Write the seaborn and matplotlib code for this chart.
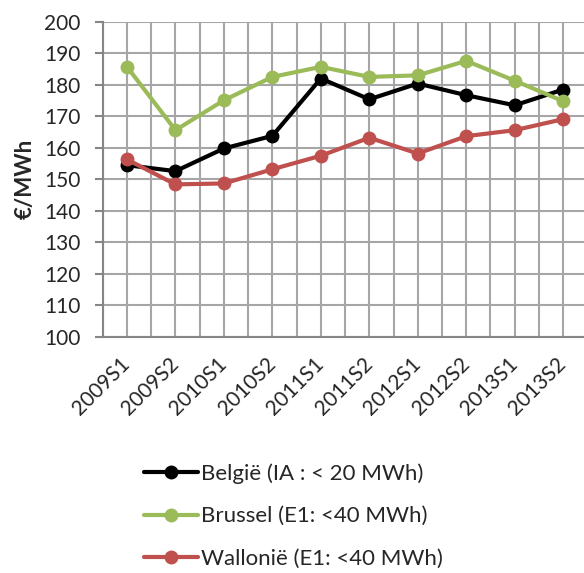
import numpy as np
import pandas as pd
import matplotlib
matplotlib.use("Agg")
import matplotlib.pyplot as plt
from matplotlib.ticker import MultipleLocator, FixedLocator
import seaborn as sns

# Data
periodes = ["2009S1", "2009S2", "2010S1", "2010S2", "2011S1",
            "2011S2", "2012S1", "2012S2", "2013S1", "2013S2"]
belgie = [154.5, 152.6, 159.8, 163.8, 182.0, 175.4, 180.4, 176.7, 173.5, 178.5]
brussel = [185.7, 165.6, 175.1, 182.5, 185.7, 182.5, 183.0, 187.6, 181.3, 174.8]
wallonie = [156.3, 148.4, 148.7, 153.2, 157.5, 163.2, 158.2, 163.7, 165.6, 169.1]
series = ["België (IA : < 20 MWh)", "Brussel (E1: <40 MWh)", "Wallonië (E1: <40 MWh)"]
couleurs = ["#000000", "#9BBB59", "#C0504D"]

df = pd.DataFrame({
    "x": list(range(len(periodes))) * 3,
    "prix": belgie + brussel + wallonie,
    "serie": np.repeat(series, len(periodes)),
})

sns.set_style("white")
plt.rcParams["font.family"] = ["Lato", "DejaVu Sans"]

fig = plt.figure(figsize=(5.84, 5.73), dpi=100)
ax = fig.add_axes([0.176, 0.412, 0.824, 0.550])

sns.lineplot(data=df, x="x", y="prix", hue="serie", palette=couleurs,
             marker="o", markersize=10, markeredgewidth=0, linewidth=3,
             ax=ax, legend=True)

ax.set_xlim(-0.5, 9.43)
ax.set_ylim(100, 200)
ax.yaxis.set_major_locator(MultipleLocator(10))
ax.set_xticks(range(len(periodes)))
ax.set_xticklabels(periodes, rotation=45, ha="right", va="center",
                   rotation_mode="anchor", fontsize=15)
ax.xaxis.set_minor_locator(FixedLocator(np.arange(-0.5, 10, 1)))
ax.tick_params(axis="x", which="major", length=0, pad=17)
ax.tick_params(axis="x", which="minor", length=6, width=1.5, color="#868686", direction="out")
ax.tick_params(axis="y", which="major", length=6, width=1.5, color="#868686",
               direction="out", labelsize=15, pad=10, left=True)
ax.grid(True, which="both", color="#A6A6A6", linewidth=1.5)
ax.set_axisbelow(True)

for s in ["top", "right"]:
    ax.spines[s].set_visible(False)
for s in ["left", "bottom"]:
    ax.spines[s].set_color("#868686")
    ax.spines[s].set_linewidth(1.5)

ax.set_xlabel("")
ax.set_ylabel("€/MWh", fontsize=16, fontweight="bold", labelpad=6)

handles, labels = ax.get_legend_handles_labels()
ax.get_legend().remove()
fig.legend(handles, labels, loc="upper left", bbox_to_anchor=(0.213, 0.226),
           frameon=False, fontsize=16, handlelength=2.4, handletextpad=0.15,
           labelspacing=1.0)

fig.savefig("out.png", dpi=100)
